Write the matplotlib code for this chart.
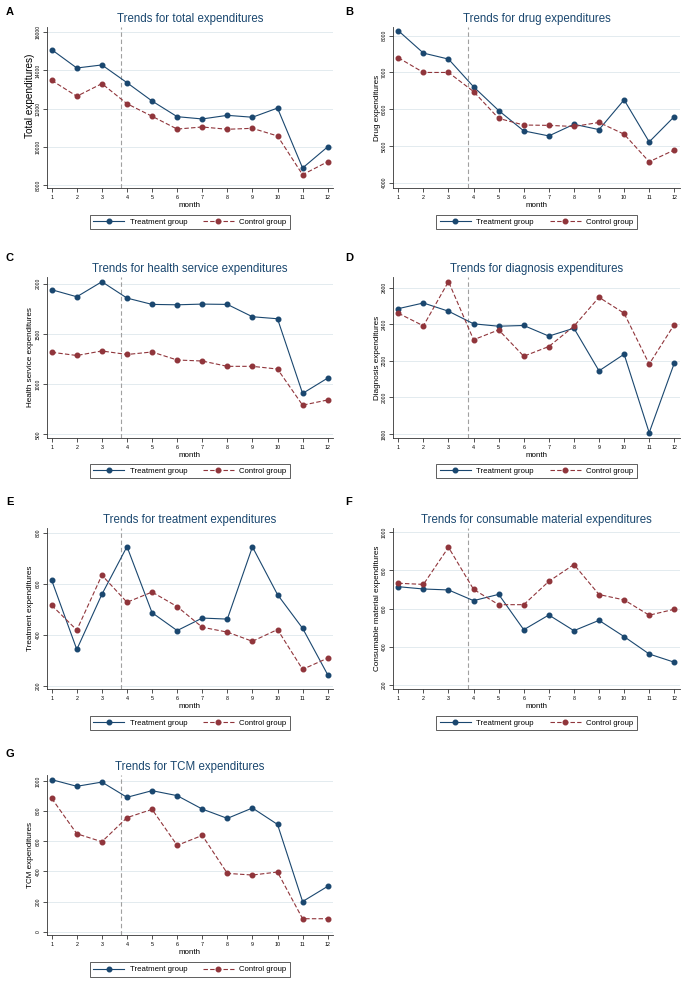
import matplotlib
matplotlib.use("Agg")
import matplotlib.pyplot as plt
from matplotlib.lines import Line2D

plt.rcParams['font.family'] = ['Liberation Sans', 'DejaVu Sans']

months = list(range(1, 13))

# Panel data
titles = [
    "Trends for total expenditures",
    "Trends for drug expenditures",
    "Trends for health service expenditures",
    "Trends for diagnosis expenditures",
    "Trends for treatment expenditures",
    "Trends for consumable material expenditures",
    "Trends for TCM expenditures",
]
ylabels = [
    "Total expenditures)",
    "Drug expenditures",
    "Health service expenditures",
    "Diagnosis expenditures",
    "Treatment expenditures",
    "Consumable material expenditures",
    "TCM expenditures",
]
panel_letters = ["A", "B", "C", "D", "E", "F", "G"]

total_treat = [15090, 14130, 14290, 13360, 12400, 11580, 11460, 11650, 11550, 12030, 8890, 10000]
total_ctrl = [13480, 12650, 13310, 12260, 11600, 10930, 11040, 10920, 10970, 10570, 8540, 9220]

drug_treat = [8136, 7527, 7364, 6610, 5964, 5410, 5273, 5590, 5445, 6255, 5110, 5800]
drug_ctrl = [7400, 7000, 7000, 6480, 5750, 5570, 5560, 5530, 5640, 5320, 4570, 4890]

health_treat = [1940, 1870, 2020, 1857, 1794, 1790, 1797, 1794, 1671, 1651, 907, 1060]
health_ctrl = [1317, 1285, 1330, 1295, 1320, 1240, 1230, 1177, 1177, 1150, 790, 842]

diag_treat = [2485, 2516, 2471, 2402, 2389, 2393, 2335, 2378, 2145, 2236, 1807, 2187]
diag_ctrl = [2460, 2391, 2633, 2315, 2369, 2225, 2278, 2389, 2547, 2460, 2182, 2398]

treatm_treat = [613, 342, 558, 745, 486, 416, 465, 461, 744, 557, 425, 243]
treatm_ctrl = [515, 418, 633, 527, 567, 510, 429, 410, 374, 420, 264, 308]

cons_treat = [714, 702, 697, 641, 674, 489, 566, 484, 538, 453, 362, 319]
cons_ctrl = [732, 726, 920, 700, 620, 620, 742, 830, 673, 645, 565, 596]

tcm_treat = [1009, 965, 993, 892, 936, 903, 814, 752, 821, 712, 200, 301]
tcm_ctrl = [885, 650, 597, 757, 812, 573, 639, 387, 376, 396, 86, 86]

treat_series = [total_treat, drug_treat, health_treat, diag_treat, treatm_treat, cons_treat, tcm_treat]
ctrl_series = [total_ctrl, drug_ctrl, health_ctrl, diag_ctrl, treatm_ctrl, cons_ctrl, tcm_ctrl]

yticks_list = [
    [8000, 10000, 12000, 14000, 16000],
    [4000, 5000, 6000, 7000, 8000],
    [500, 1000, 1500, 2000],
    [1800, 2000, 2200, 2400, 2600],
    [200, 400, 600, 800],
    [200, 400, 600, 800, 1000],
    [0, 200, 400, 600, 800, 1000],
]
ylims = [
    (7843, 16278),
    (3856, 8237),
    (463, 2067),
    (1778, 2658),
    (187, 818),
    (179, 1021),
    (-22, 1040),
]
intervention = 3.78

TREAT_C = '#1a476f'
CTRL_C = '#90353b'

W, H = 690, 991
fig = plt.figure(figsize=(W / 100, H / 100), dpi=100)

# layout in pixels
cols = [(46.7, 333.2), (393.3, 679.8)]
rows = [
    dict(label=12, title=19, top=27, bottom=188, legend=222),
    dict(label=258, title=269, top=277, bottom=438, legend=471),
    dict(label=502, title=520, top=528, bottom=689, legend=723),
    dict(label=754, title=767, top=775, bottom=935, legend=969.5),
]
label_x = [10, 349]

for i in range(7):
    r = rows[i // 2]
    c = cols[i % 2]
    left, right = c
    h = r['bottom'] - r['top']
    ax = fig.add_axes([left / W, 1 - r['bottom'] / H, (right - left) / W, h / H])
    ax.set_xlim(0.8, 12.22)
    ax.set_ylim(*ylims[i])
    ax.set_yticks(yticks_list[i])
    ax.set_xticks(months)
    ax.set_xticklabels([str(m) for m in months])
    ax.set_yticklabels([str(t) for t in yticks_list[i]], rotation=90, va='center')
    for t in yticks_list[i]:
        ax.axhline(t, color='#e3ebef', lw=0.7, zorder=0)
    ax.axvline(intervention, color='#a0a0a0', lw=0.8, ls=(0, (4, 2.5)), zorder=1)
    ax.plot(months, treat_series[i], color=TREAT_C, lw=0.8, marker='o', ms=3.3, zorder=3)
    ax.plot(months, ctrl_series[i], color=CTRL_C, lw=0.8, ls=(0, (4, 2)), marker='o', ms=3.3, zorder=3)
    for s in ['top', 'right']:
        ax.spines[s].set_visible(False)
    for s in ['left', 'bottom']:
        ax.spines[s].set_color('#333333')
        ax.spines[s].set_linewidth(0.6)
    ax.tick_params(axis='x', length=3, width=0.6, color='#333333', labelsize=3.9, pad=2)
    ax.tick_params(axis='y', length=3, width=0.6, color='#333333', labelsize=3.6, pad=1.5)
    ax.set_xlabel('month', fontsize=5.8)
    ax.xaxis.set_label_coords(0.5, -17.5 / h)
    ax.xaxis.label.set_va('center')
    ax.set_ylabel(ylabels[i], fontsize=7.2 if i == 0 else 5.9)
    ax.yaxis.set_label_coords((30 + (0 if i % 2 == 0 else 347) - left) / (right - left),
                              0.57 if i == 0 else 0.5)
    ax.yaxis.label.set_va('center')

    fig.text((left + right) / 2 / W, 1 - r['title'] / H, titles[i], ha='center', va='center',
             fontsize=8.3, color=TREAT_C)
    fig.text(label_x[i % 2] / W, 1 - r['label'] / H, panel_letters[i], ha='center', va='center',
             fontsize=8, fontweight='bold', color='black')

    handles = [
        Line2D([0], [0], color=TREAT_C, lw=0.8, marker='o', ms=3.3),
        Line2D([0], [0], color=CTRL_C, lw=0.8, ls=(0, (4, 2)), marker='o', ms=3.3),
    ]
    leg = fig.legend(handles, ['Treatment group', 'Control group'], ncol=2, loc='center',
                     bbox_to_anchor=((left + right) / 2 / W, 1 - r['legend'] / H),
                     fontsize=5.6, numpoints=1, handlelength=4.0, handletextpad=0.7,
                     columnspacing=2.0, borderpad=0.45, fancybox=False, framealpha=1,
                     edgecolor='#444444')
    leg.get_frame().set_linewidth(0.6)

fig.savefig('out.png', dpi=100, facecolor='white')
